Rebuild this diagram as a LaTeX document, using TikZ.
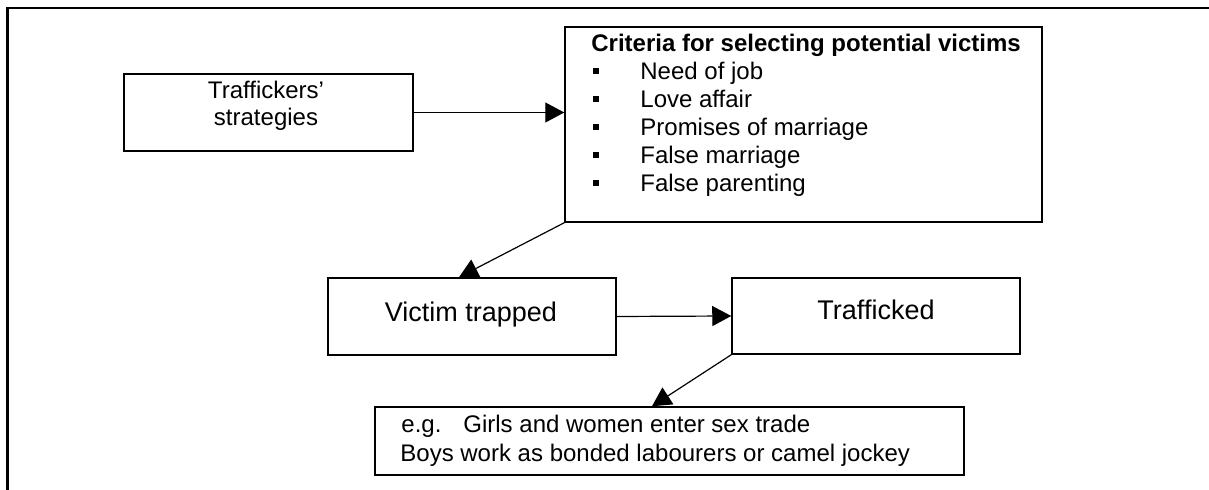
\documentclass[tikz,border=0pt]{standalone}
\usepackage{fontspec}
\setmainfont{Liberation Sans}
\usetikzlibrary{arrows.meta}
\tikzset{>={Triangle[length=9.5pt,width=10pt]}}
\tikzset{box/.style={draw, line width=0.75pt, inner sep=0pt},
    txt/.style={inner sep=0pt, anchor=base, font=\fontsize{12}{14}\selectfont},
    bigtxt/.style={txt, font=\fontsize{13.5}{16}\selectfont},
    link/.style={->, line width=0.6pt}}

\begin{document}
\begin{tikzpicture}[x=0.5pt,y=-0.5pt]
    \useasboundingbox (0,0) rectangle (1209,490);
    % outer frame
    \draw[line width=1.25pt] (7.6,490) -- (7.6,8) -- (1209,8);
    % boxes
    \node[box, minimum width=144.5pt, minimum height=38.5pt] (strat) at (268.5,112.5) {};
    \node[box, minimum width=238.5pt, minimum height=97.5pt] (criteria) at (803.5,124.5) {};
    \node[box, minimum width=144pt, minimum height=38.5pt] (victim) at (472,316.5) {};
    \node[box, minimum width=144pt, minimum height=38pt] (trafficked) at (876,316) {};
    \node[box, minimum width=294.5pt, minimum height=34pt] (eg) at (669.5,441) {};
    % texts
    \node[txt] (strat1) at (266,98.6) {Traffickers’};
    \node[txt] (strat2) at (266,125.6) {strategies};
    \node[txt, anchor=base west] (crithead) at (591,52) {\bfseries Criteria for selecting potential victims};
    \foreach \crit [count=\i] in {Need of job, Love affair, Promises of marriage, False marriage, False parenting} {
        \fill (593,{40.5+28*\i}) rectangle (599,{46.5+28*\i});
        \node[txt, anchor=base west] (crit\i) at (640,{52+28*\i}) {\crit};
    }
    \node[bigtxt] (victimtext) at (471,321.5) {Victim trapped};
    \node[bigtxt] (traffickedtext) at (876,319.5) {Trafficked};
    \node[txt, anchor=base west] (eg1) at (401,432.6) {e.g.\hspace{11pt}Girls and women enter sex trade};
    \node[txt, anchor=base west] (eg2) at (400,461.6) {Boys work as bonded labourers or camel jockey};
    % arrows
    \draw[link] (strat.east) -- (strat.east -| criteria.west);
    \draw[link] (criteria.south west) -- ([xshift=-6.5pt]victim.north);
    \draw[link] (victim.east) -- (trafficked.west);
    \draw[link] (trafficked.south west) -- ([xshift=-8.75pt]eg.north);
\end{tikzpicture}
\end{document}
